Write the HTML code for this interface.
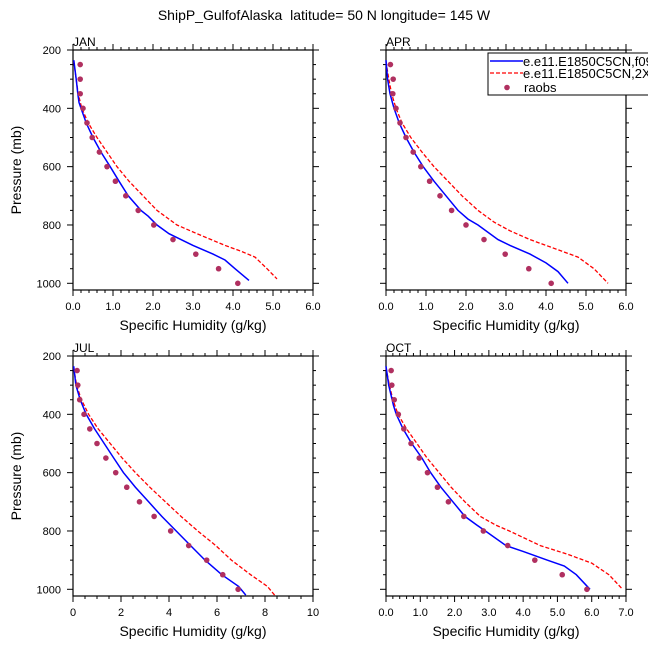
<!DOCTYPE html>
<html><head><meta charset="utf-8"><style>
body{margin:0;background:#fff}
svg{display:block;font-family:"Liberation Sans",sans-serif}
</style></head><body>
<svg id="chart" width="648" height="648" viewBox="0 0 648 648">
<text x="324" y="20" text-anchor="middle" font-size="14" style="white-space:pre">ShipP_GulfofAlaska  latitude= 50 N longitude= 145 W</text>
</svg>
<script>
const presObs=[250,300,350,400,450,500,550,600,650,700,750,800,850,900,950,1000];
const janObs=[0.18,0.18,0.18,0.25,0.35,0.48,0.66,0.85,1.06,1.32,1.63,2.02,2.5,3.07,3.64,4.12];
const aprObs=[0.11,0.18,0.17,0.25,0.35,0.5,0.68,0.87,1.09,1.35,1.64,2.0,2.45,2.98,3.57,4.13];
const julObs=[0.17,0.2,0.28,0.46,0.7,1.0,1.37,1.78,2.24,2.77,3.38,4.07,4.82,5.57,6.24,6.88];
const octObs=[0.15,0.17,0.24,0.36,0.52,0.73,0.97,1.21,1.5,1.82,2.27,2.84,3.55,4.34,5.14,5.86];

const janBlueP=[235,300,350,380,400,450,500,550,600,650,700,750,770,800,830,870,900,920,950,990];
const janBlueQ=[0.02,0.08,0.12,0.15,0.2,0.33,0.5,0.7,0.93,1.15,1.38,1.7,1.88,2.1,2.4,3.0,3.5,3.8,4.05,4.4];
const janRedP=[240,300,350,400,450,500,550,600,650,700,750,800,830,870,890,910,950,985];
const janRedQ=[0.02,0.08,0.13,0.22,0.38,0.6,0.85,1.1,1.4,1.75,2.1,2.6,3.1,3.8,4.2,4.55,4.85,5.1];

const aprBlueP=[235,300,350,400,450,500,550,600,650,700,750,780,800,850,870,900,930,960,1000];
const aprBlueQ=[0,0.04,0.1,0.2,0.33,0.5,0.7,0.93,1.2,1.5,1.8,2.05,2.3,2.8,3.1,3.6,4.0,4.3,4.55];
const aprRedP=[240,300,350,400,450,500,550,600,650,700,750,790,820,850,880,910,950,1000];
const aprRedQ=[0,0.07,0.14,0.25,0.4,0.62,0.9,1.2,1.55,1.9,2.3,2.7,3.1,3.6,4.2,4.8,5.2,5.55];

const julBlueP=[235,300,350,400,450,500,550,600,650,700,750,800,850,900,950,990,1020];
const julBlueQ=[0.03,0.12,0.3,0.55,0.9,1.3,1.7,2.1,2.6,3.15,3.7,4.3,4.9,5.5,6.2,6.9,7.2];
const julRedP=[240,300,350,400,450,500,550,600,650,700,750,800,850,900,950,990,1020];
const julRedQ=[0.03,0.15,0.35,0.65,1.05,1.55,2.05,2.6,3.2,3.85,4.5,5.2,5.95,6.6,7.4,8.1,8.4];

const octBlueP=[235,300,370,400,450,500,550,600,650,700,750,780,800,850,870,900,920,950,1000];
const octBlueQ=[0,0.08,0.22,0.3,0.5,0.75,1.05,1.3,1.6,1.95,2.3,2.65,2.9,3.5,4.0,4.7,5.2,5.55,5.95];
const octRedP=[240,300,350,400,450,500,550,600,650,700,750,780,800,850,880,910,950,1000];
const octRedQ=[0,0.1,0.2,0.35,0.6,0.9,1.2,1.55,1.9,2.3,2.75,3.2,3.6,4.5,5.3,6.0,6.5,6.9];

const yTicks=[200,400,600,800,1000];
const janXTicks=["0.0","1.0","2.0","3.0","4.0","5.0","6.0"];
const julXTicks=["0","2","4","6","8","10"];
const octXTicks=["0.0","1.0","2.0","3.0","4.0","5.0","6.0","7.0"];

const svg=document.getElementById('chart');
const NS='http://www.w3.org/2000/svg';
function mk(tag,attrs,parent){const e=document.createElementNS(NS,tag);for(const k in attrs)e.setAttribute(k,attrs[k]);(parent||svg).appendChild(e);return e;}

function panel(cfg){
  const L=cfg.x,T=cfg.y,W=240,H=240;
  const g=mk('g',{});
  
  
  const xs=v=>L+v/cfg.xmax*W;
  const ys=p=>T+(p-200)*233.3/800;
  for(let v=0;v<=cfg.xmax+1e-9;v+=cfg.minor){
    const maj=Math.abs(v/cfg.major-Math.round(v/cfg.major))<1e-6;
    const len=maj?6:3;
    mk('line',{x1:xs(v),x2:xs(v),y1:T,y2:T-len,stroke:'#000','stroke-width':1},g);
    mk('line',{x1:xs(v),x2:xs(v),y1:T+H,y2:T+H+len,stroke:'#000','stroke-width':1},g);
  }
  for(let p=200;p<=1000;p+=50){
    const maj=p%200===0;const len=maj?6:3;
    mk('line',{x1:L,x2:L-len,y1:ys(p),y2:ys(p),stroke:'#000','stroke-width':1},g);
    mk('line',{x1:L+W,x2:L+W+len,y1:ys(p),y2:ys(p),stroke:'#000','stroke-width':1},g);
  }
  const fr=mk('rect',{x:L,y:T,width:W,height:H,fill:'none',stroke:'#000','stroke-width':1.2},g);
  
  
  cfg.xticks.forEach((t,i)=>{
    const tx=mk('text',{x:xs(i*cfg.major),y:T+H+20,'text-anchor':'middle','font-size':11},g);
    tx.textContent=t;
    
    
  });
  if(cfg.ylabels){
    yTicks.forEach(p=>{
      const tx=mk('text',{x:L-12,y:ys(p)+4,'text-anchor':'end','font-size':11},g);
      tx.textContent=p;
      
      
    });
    const yt=mk('text',{x:0,y:0,'text-anchor':'middle','font-size':14,transform:`translate(${L-52},${T+H/2}) rotate(-90)`},g);
    yt.textContent='Pressure (mb)';
    
    
  }
  const xt=mk('text',{x:L+W/2,y:T+H+40,'text-anchor':'middle','font-size':14},g);
  xt.textContent='Specific Humidity (g/kg)';
  
  
  const lb=mk('text',{x:L,y:T-4,'font-size':12},g);
  lb.textContent=cfg.label;
  
  
  const pts=(P,Q)=>P.map((p,i)=>xs(Q[i]).toFixed(1)+','+ys(p).toFixed(1)).join(' ');
  const red=mk('polyline',{points:pts(cfg.redP,cfg.redQ),fill:'none',stroke:'#ff0000','stroke-width':1.3,'stroke-dasharray':'4,2'},g);
  
  
  const blue=mk('polyline',{points:pts(cfg.blueP,cfg.blueQ),fill:'none',stroke:'#0000ff','stroke-width':1.5},g);
  
  
  presObs.forEach((p,i)=>{
    const c=mk('circle',{cx:xs(cfg.obs[i]),cy:ys(p),r:2.8,fill:'#b03060'},g);
    
    
  });
}
panel({name:'jan',label:'JAN',x:73,y:50,xmax:6,major:1,minor:0.2,xticks:janXTicks,ylabels:true,obs:janObs,blueP:janBlueP,blueQ:janBlueQ,redP:janRedP,redQ:janRedQ});
panel({name:'apr',label:'APR',x:386,y:50,xmax:6,major:1,minor:0.2,xticks:janXTicks,ylabels:false,obs:aprObs,blueP:aprBlueP,blueQ:aprBlueQ,redP:aprRedP,redQ:aprRedQ});
panel({name:'jul',label:'JUL',x:73,y:356,xmax:10,major:2,minor:0.5,xticks:julXTicks,ylabels:true,obs:julObs,blueP:julBlueP,blueQ:julBlueQ,redP:julRedP,redQ:julRedQ});
panel({name:'oct',label:'OCT',x:386,y:356,xmax:7,major:1,minor:0.2,xticks:octXTicks,ylabels:false,obs:octObs,blueP:octBlueP,blueQ:octBlueQ,redP:octRedP,redQ:octRedQ});

const lg=mk('g',{});


mk('rect',{x:488,y:53,width:170,height:42,fill:'#fff',stroke:'#000','stroke-width':1},lg);
mk('line',{x1:490,x2:523,y1:61,y2:61,stroke:'#0000ff','stroke-width':1.5},lg);
const t1=mk('text',{x:523,y:66,'font-size':13},lg);t1.textContent='e.e11.E1850C5CN,f09';


mk('line',{x1:490,x2:523,y1:73,y2:73,stroke:'#ff0000','stroke-width':1.3,'stroke-dasharray':'4,2'},lg);
const t2=mk('text',{x:523,y:78,'font-size':13},lg);t2.textContent='e.e11.E1850C5CN,2X';


mk('circle',{cx:507,cy:87.5,r:2.8,fill:'#b03060'},lg);
const t3=mk('text',{x:524,y:92,'font-size':13},lg);t3.textContent='raobs';


</script>
</body></html>
